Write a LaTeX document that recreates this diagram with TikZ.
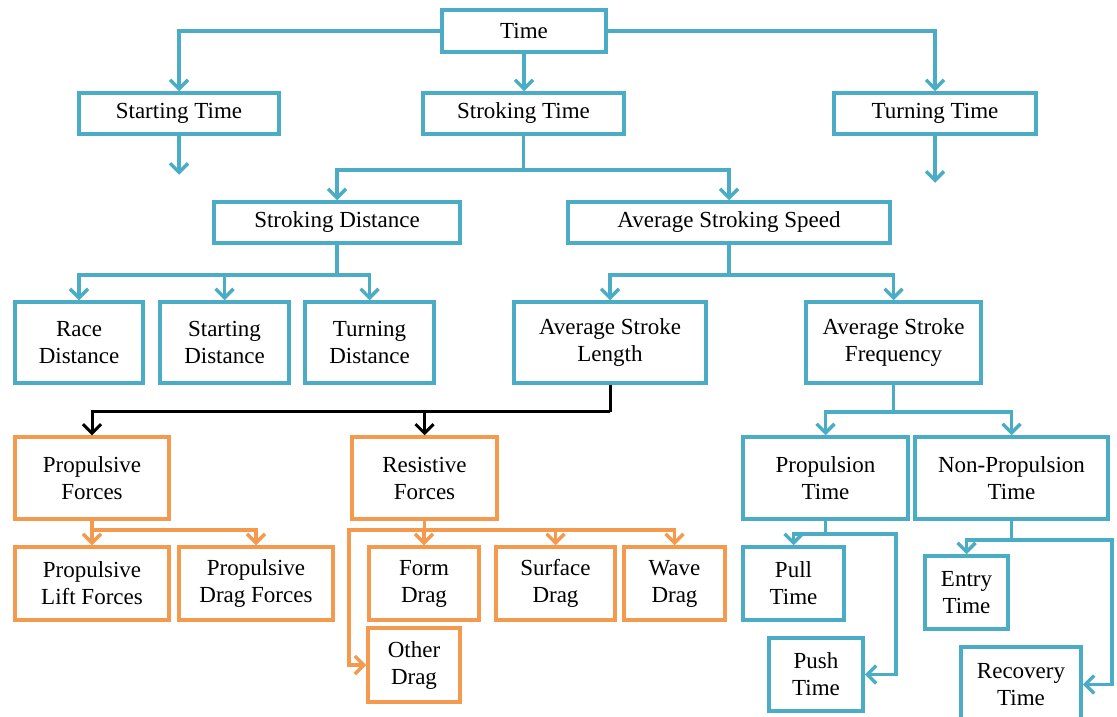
\documentclass[tikz,border=0pt]{standalone}
\usepackage{fontspec}
\setmainfont{Liberation Serif}
\usetikzlibrary{arrows.meta}
\definecolor{bl}{HTML}{4BACC6}
\definecolor{og}{HTML}{F39A4E}
\newcommand{\mybox}[7]{\node[#1, minimum width={(#5-#3)*1pt}, minimum height={(#6-#4)*1pt}] (#2) at ({(#3+#5)/2},{(#4+#6)/2}) {#7};}
\begin{document}
\begin{tikzpicture}[x=1pt,y=-1pt,
  box/.style={draw, line width=3.5pt, fill=white, inner sep=0pt, align=center, font=\rmfamily\fontsize{23}{27}\selectfont},
  bbox/.style={box, draw=bl},
  obox/.style={box, draw=og},
  bline/.style={draw=bl, line width=3.5pt},
  oline/.style={draw=og, line width=3.5pt},
  kline/.style={draw=black, line width=3pt},
  tip/.style={-{Straight Barb[length=9pt,width=18pt]}}
]
\useasboundingbox (0,0) rectangle (1117,717);
\clip (0,0) rectangle (1117,717);
% level 0-1
\mybox{bbox}{time}{442}{10}{606}{52}{Time}
\mybox{bbox}{start}{79}{93}{279}{134}{Starting Time}
\mybox{bbox}{stroke}{423}{93}{624}{134}{Stroking Time}
\mybox{bbox}{turn}{834}{93}{1036}{134}{Turning Time}
% level 2
\mybox{bbox}{sdist}{214}{202}{460}{243}{Stroking Distance}
\mybox{bbox}{speed}{568}{202}{890}{243}{Average Stroking Speed}
% level 3
\mybox{bbox}{race}{15}{302}{143}{383}{Race\\Distance}
\mybox{bbox}{sdst}{160}{302}{289}{383}{Starting\\Distance}
\mybox{bbox}{tdst}{305}{302}{434}{383}{Turning\\Distance}
\mybox{bbox}{len}{514}{302}{706}{383}{Average Stroke\\Length}
\mybox{bbox}{freq}{806}{302}{981}{383}{Average Stroke\\Frequency}
% level 4
\mybox{obox}{prop}{15}{437}{169}{519}{Propulsive\\Forces}
\mybox{obox}{res}{352}{437}{497}{519}{Resistive\\Forces}
\mybox{bbox}{ptime}{743}{437}{908}{519}{Propulsion\\Time}
\mybox{bbox}{nptime}{915}{437}{1108}{519}{Non-Propulsion\\Time}
% level 5
\mybox{obox}{plift}{15}{547}{169}{620}{Propulsive\\Lift Forces}
\mybox{obox}{pdrag}{179}{547}{333}{620}{Propulsive\\Drag Forces}
\mybox{obox}{form}{369}{547}{479}{620}{Form\\Drag}
\mybox{obox}{surf}{496}{547}{615}{620}{Surface\\Drag}
\mybox{obox}{wave}{624}{547}{725}{620}{Wave\\Drag}
\mybox{obox}{other}{368}{628}{460}{702}{Other\\Drag}
\mybox{bbox}{pull}{743}{547}{844}{620}{Pull\\Time}
\mybox{bbox}{push}{769}{638}{863}{711}{Push\\Time}
\mybox{bbox}{entry}{925}{556}{1008}{629}{Entry\\Time}
\mybox{bbox}{recov}{961}{647}{1081}{722}{Recovery\\Time}
% connectors
\draw[bline,tip] (time.west) -| (start.north);
\draw[bline,tip] (time.east) -| (turn.north);
\draw[bline,tip] (time.south) -- (time.south |- stroke.north);
\draw[bline,tip] (start.south) -- ++(0,39);
\draw[bline,tip] (turn.south) -- ++(0,47);
\draw[bline] (stroke.south) -- ++(0,34) coordinate (j1);
\draw[bline,tip] (j1) -| (sdist.north);
\draw[bline,tip] (j1) -| (speed.north);
\draw[bline] (sdist.south) -- ++(0,30) coordinate (j2);
\draw[bline,tip] (j2) -| (race.north);
\draw[bline,tip] (j2) -| (sdst.north);
\draw[bline,tip] (j2) -| (tdst.north);
\draw[bline] (speed.south) -- ++(0,30) coordinate (j3);
\draw[bline,tip] (j3) -| (len.north);
\draw[bline,tip] (j3) -| (freq.north);
\draw[kline] (len.south) -- ++(0,27) coordinate (j4);
\draw[kline,tip] (j4) -| (prop.north);
\draw[kline,tip] (j4) -| (res.north);
\draw[oline] (prop.south) -- ++(0,9) coordinate (j5);
\draw[oline,tip] (j5) -| (plift.north);
\draw[oline,tip] (j5) -| (pdrag.north);
\draw[oline] (res.south) -- ++(0,9) coordinate (j6);
\draw[oline,tip] (j6) -| (form.north);
\draw[oline,tip] (j6) -| (surf.north);
\draw[oline,tip] (j6) -| (wave.north);
\draw[oline,tip] (j6) -- ([xshift=-75.5pt]j6) |- (other.west);
\draw[bline] (freq.south) -- ++(0,27) coordinate (j7);
\draw[bline,tip] (j7) -| (ptime.north);
\draw[bline,tip] (j7) -| (nptime.north);
\draw[bline] (ptime.south) -- ++(0,13) coordinate (j8);
\draw[bline,tip] (j8) -| (pull.north);
\draw[bline,tip] (j8) -- ([xshift=70.5pt]j8) |- (push.east);
\draw[bline] (nptime.south) -- ++(0,19) coordinate (j9);
\draw[bline,tip] (j9) -| (entry.north);
\draw[bline,tip] (j9) -- ([xshift=100.5pt]j9) |- (recov.east);
\end{tikzpicture}
\end{document}
